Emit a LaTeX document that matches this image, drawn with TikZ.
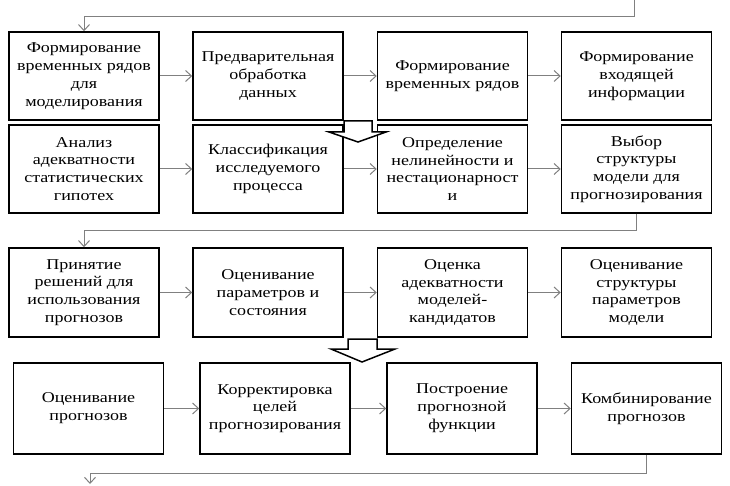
\documentclass[tikz,border=0pt]{standalone}
\usepackage{fontspec}
\setmainfont{Liberation Serif}[FakeStretch=1.2]
\usetikzlibrary{arrows.meta}

\begin{document}
\begin{tikzpicture}[x=1pt,y=-1pt,
    stage/.style={draw,line width=1.5pt,minimum width=150pt,minimum height=88pt,
                  inner sep=0pt,align=center,font=\fontsize{15}{17.8}\selectfont},
    flow/.style={draw=gray,line width=1pt,-{Straight Barb[length=6pt,width=11pt]}},
    hollow/.style={draw=black,line width=1.5pt,fill=white}]
    \useasboundingbox (0,0) rectangle (730,486);

    % Zeile 1
    \node[stage] (r1c1) at (84,76)    {Формирование\\временных рядов\\для\\моделирования};
    \node[stage] (r1c2) at (268,76)   {Предварительная\\обработка\\данных};
    \node[stage] (r1c3) at (452.5,76) {Формирование\\временных рядов};
    \node[stage] (r1c4) at (636.5,76) {Формирование\\входящей\\информации};

    % Zeile 2
    \node[stage] (r2c1) at (84,169)    {Анализ\\адекватности\\статистических\\гипотех};
    \node[stage] (r2c2) at (268,169)   {Классификация\\исследуемого\\процесса};
    \node[stage] (r2c3) at (452.5,169) {Определение\\нелинейности и\\нестационарност\\и};
    \node[stage] (r2c4) at (636.5,169) {Выбор\\структуры\\модели для\\прогнозирования};

    % Zeile 3
    \node[stage,minimum height=89pt] (r3c1) at (84,292.5)    {Принятие\\решений для\\использования\\прогнозов};
    \node[stage,minimum height=89pt] (r3c2) at (268,292.5)   {Оценивание\\параметров и\\состояния};
    \node[stage,minimum height=89pt] (r3c3) at (452.5,292.5) {Оценка\\адекватности\\моделей-\\кандидатов};
    \node[stage,minimum height=89pt] (r3c4) at (636.5,292.5) {Оценивание\\структуры\\параметров\\модели};

    % Zeile 4
    \node[stage,minimum height=91pt] (r4c1) at (88.5,408.5) {Оценивание\\прогнозов};
    \node[stage,minimum height=91pt] (r4c2) at (275,408.5)  {Корректировка\\целей\\прогнозирования};
    \node[stage,minimum height=91pt] (r4c3) at (462,408.5)  {Построение\\прогнозной\\функции};
    \node[stage,minimum height=91pt] (r4c4) at (646.5,408.5) {Комбинирование\\прогнозов};

    % Pfeile innerhalb der Zeilen
    \foreach \r in {1,2,3,4} {
        \draw[flow] (r\r c1) -- (r\r c2);
        \draw[flow] (r\r c2) -- (r\r c3);
        \draw[flow] (r\r c3) -- (r\r c4);
    }

    % Rueckfuehrungen
    \coordinate (top) at (634,0);
    \coordinate (bottom) at (90,484);
    \draw[flow] (top) -- ++(0,17) -| (r1c1.north);
    \draw[flow] (r2c4.south) -- ++(0,17) -| (r3c1.north);
    \draw[flow] (r4c4.south) -- ++(0,19) -| (bottom);

    % Blockpfeile
    \draw[hollow] (344,121) -- (344,132) -- (329,132) -- (358,142) -- (386,132)
                  -- (372,132) -- (372,121) -- cycle;
    \draw[hollow] (348,339) -- (348,349) -- (331,349) -- (362,362) -- (395,349)
                  -- (377,349) -- (377,339) -- cycle;
\end{tikzpicture}
\end{document}
